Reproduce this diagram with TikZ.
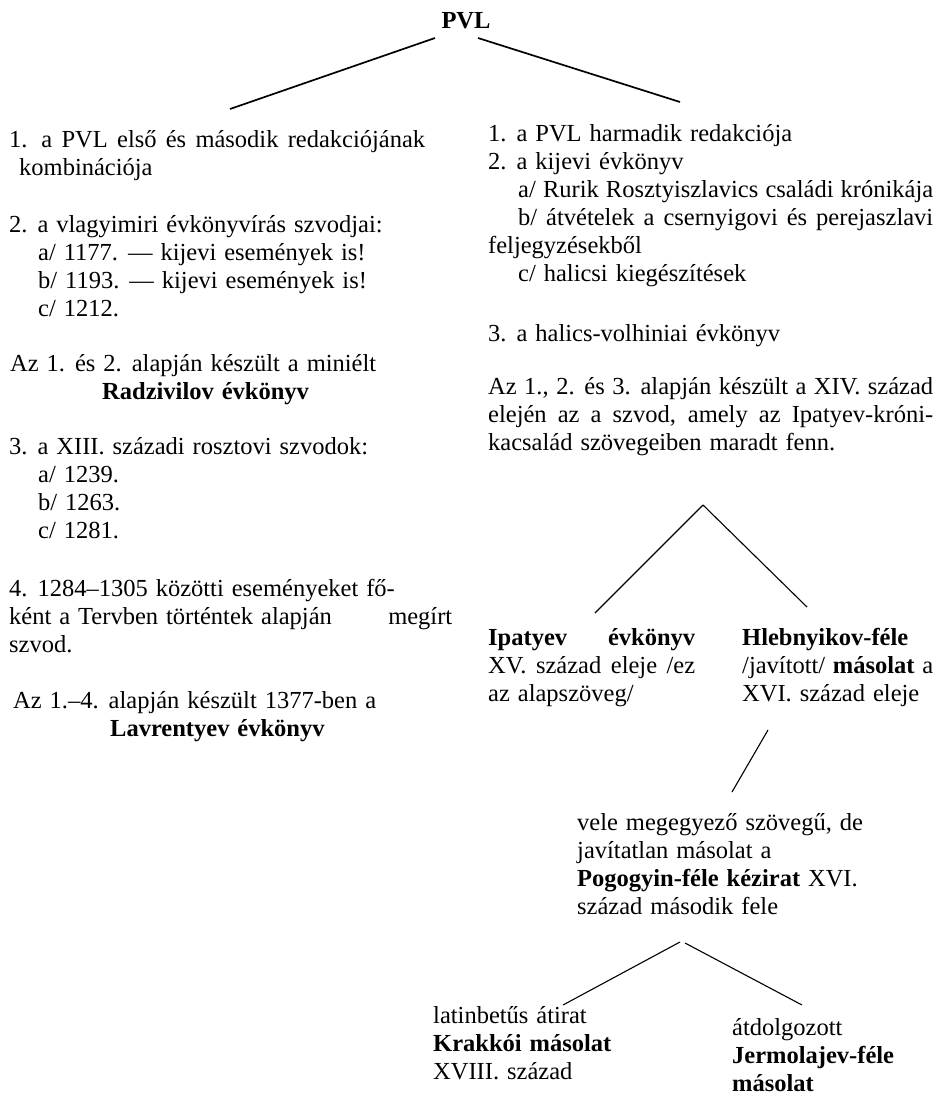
\documentclass[tikz,border=0pt]{standalone}
\usepackage{fontspec}
\setmainfont{Liberation Serif}[WordSpace=1.3]
\newcommand{\szoveg}{\fontsize{24.5}{28}\selectfont}
\newcommand{\sor}[2]{\makebox[#1][s]{#2}}
\tikzset{
  blokk/.style={anchor=north west, inner sep=0pt, align=left, font=\szoveg,
    execute at begin node=\strut},
  ag/.style={line width=1.1pt},
  fo/.style={line width=1.7pt}
}
\begin{document}
\begin{tikzpicture}[x=1pt,y=-1pt]
  \useasboundingbox (0,0) rectangle (945,1096);
  \node[font=\szoveg\bfseries, anchor=base] (pvl) at (466,28) {PVL};
  % bal oszlop
  \path
    (9,130.4) node[blokk] (elso) {\sor{416pt}{1. a PVL első és második redakciójának}\\
      \hspace*{10pt}kombinációja}
    (9,215.4) node[blokk] (vlagy) {2. a vlagyimiri évkönyvírás szvodjai:\\
      \hspace*{29pt}a/ 1177. — kijevi események is!\\
      \hspace*{29pt}b/ 1193. — kijevi események is!\\
      \hspace*{29pt}c/ 1212.}
    (10,354.4) node[blokk] (radz) {Az 1. és 2. alapján készült a miniélt\\
      \hspace*{92pt}\textbf{Radzivilov évkönyv}}
    (9,437.4) node[blokk] (rosz) {3. a XIII. századi rosztovi szvodok:\\
      \hspace*{29pt}a/ 1239.\\
      \hspace*{29pt}b/ 1263.\\
      \hspace*{29pt}c/ 1281.}
    (9,579.4) node[blokk] (tver) {4. 1284–1305 közötti eseményeket fő-\\
      \hbox to 443pt{ként a Tervben történtek alapján\hfill megírt}\\
      szvod.}
    (13,691.4) node[blokk] (lavr) {Az 1.–4. alapján készült 1377-ben a\\
      \hspace*{97pt}\textbf{Lavrentyev évkönyv}};
  % jobb oszlop
  \path
    (488,124.4) node[blokk] (harm) {1. a PVL harmadik redakciója\\
      2. a kijevi évkönyv\\
      \hspace*{30pt}\sor{415pt}{a/ Rurik Rosztyiszlavics családi krónikája}\\
      \hspace*{30pt}\sor{415pt}{b/ átvételek a csernyigovi és perejaszlavi}\\
      feljegyzésekből\\
      \hspace*{30pt}c/ halicsi kiegészítések}
    (488,321.4) node[blokk] (halics) {3. a halics-volhiniai évkönyv}
    (488,377.4) node[blokk] (szvod) {\sor{445pt}{Az 1., 2. és 3. alapján készült a XIV. század}\\
      \sor{445pt}{elején az a szvod, amely az Ipatyev-króni-}\\
      kacsalád szövegeiben maradt fenn.}
    (488,628.4) node[blokk] (ipat) {\sor{207pt}{\textbf{Ipatyev} \hfill \textbf{évkönyv}}\\
      \sor{207pt}{XV. század eleje /ez}\\
      az alapszöveg/}
    (742,628.4) node[blokk] (hleb) {\textbf{Hlebnyikov-féle}\\
      \sor{191pt}{/javított/ \textbf{másolat} a}\\
      XVI. század eleje}
    (577,813.4) node[blokk] (pogo) {vele megegyező szövegű, de\\
      javítatlan másolat a\\
      \textbf{Pogogyin-féle kézirat} XVI.\\
      század második fele}
    (433,1006.4) node[blokk] (krak) {latinbetűs átirat\\
      \textbf{Krakkói másolat}\\
      XVIII. század}
    (732,1018.4) node[blokk] (jerm) {átdolgozott\\
      \textbf{Jermolajev-féle}\\
      \textbf{másolat}};
  % vonalvégek
  \coordinate (pvlL) at (435,38);
  \coordinate (pvlR) at (478,38);
  \coordinate (balV) at (230,109);
  \coordinate (jobbV) at (680,102);
  \coordinate (csucs) at (703,505);
  \coordinate (ipatV) at (595,613);
  \coordinate (hlebV) at (807,607);
  \coordinate (hlebA) at (768,730);
  \coordinate (pogoF) at (732,792);
  \coordinate (pogoL) at (680,942);
  \coordinate (pogoR) at (685,943);
  \coordinate (krakV) at (563,1005);
  \coordinate (jermV) at (802,1005);
  \begin{scope}[ag]
    \draw[fo] (pvlL) to (balV);
    \draw[fo] (pvlR) to (jobbV);
    \draw (csucs) to (ipatV);
    \draw (csucs) to (hlebV);
    \draw (hlebA) to (pogoF);
    \draw (pogoL) to (krakV);
    \draw (pogoR) to (jermV);
  \end{scope}
\end{tikzpicture}
\end{document}
